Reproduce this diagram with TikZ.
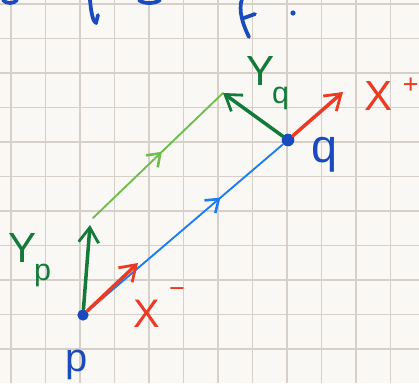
\documentclass[tikz,border=0pt]{standalone}
\usepackage{fontspec}
\setmainfont{Liberation Sans}
\usepackage{xcolor}
\usetikzlibrary{arrows.meta,decorations.markings}
\definecolor{paper}{HTML}{FAF8F4}
\definecolor{gridline}{HTML}{D6D0C8}
\definecolor{penblue}{HTML}{1A4BBE}
\definecolor{lineblue}{HTML}{1C7CF2}
\definecolor{pengreen}{HTML}{147A3A}
\definecolor{litegreen}{HTML}{6DBE4B}
\definecolor{penred}{HTML}{EB3B25}
\newcommand{\subfont}{\fontsize{26}{26}\selectfont}
\newcommand{\hsub}[3]{#2\kern#1\raisebox{-15.5pt}{\subfont #3}}
\newcommand{\hsup}[3]{X\kern#1\raisebox{#2}{\fontsize{23}{23}\selectfont #3}}
\tikzset{
  gridrule/.style={draw=gridline,line width=1pt},
  ptdot/.style={circle,fill=penblue,inner sep=0pt,minimum size=0.34cm},
  vecarr/.style={-{Straight Barb[length=4.5mm,width=6mm,line width=2.4pt]},
                 line width=3pt,line cap=round},
  thinline/.style={line width=1.6pt,line cap=round},
  midarr/.style={postaction={decorate},
                 decoration={markings,mark=at position #1 with
                   {\arrow{Straight Barb[length=3.5mm,width=5mm,line width=2.2pt]}}}},
  lbl/.style={inner sep=0pt,anchor=base west,font=\fontsize{36}{36}\selectfont},
  scrawl/.style={draw=penblue,line width=3.2pt,line cap=round,line join=round}
}

\begin{document}
\begin{tikzpicture}[x=0.03cm,y=-0.03cm]
    \path[use as bounding box,fill=paper] (0,0) rectangle (419,383);
    \clip (0,0) rectangle (419,383);
    \foreach \gx in {11,45.5,...,400} \draw[gridrule] (\gx,0) -- (\gx,383);
    \foreach \gy in {4,38.5,...,383} \draw[gridrule] (0,\gy) -- (419,\gy);

    \draw[scrawl] (3,0) .. controls (6,4) and (14,4) .. (17,0);
    \draw[scrawl] (90,0) .. controls (91,12) and (93,22) .. (96,23) -- (98,15);
    \draw[scrawl] (139,0) .. controls (143,4) and (155,4) .. (160,0);
    \draw[scrawl] (242,-1) .. controls (238,10) and (243,25) .. (249,37);
    \draw[scrawl] (244,18) -- (255,14);
    \fill[penblue] (293,13) circle (2.6);

    \node[ptdot] (p) at (83,315) {};
    \node[ptdot,minimum size=0.38cm] (q) at (288,140) {};
    \coordinate (xm) at (138,263);
    \coordinate (yp) at (90,225);
    \coordinate (gs) at (93,218);
    \coordinate (yq) at (223,93);
    \coordinate (xp) at (343,92);

    \draw[thinline,lineblue,midarr=0.68] (p) -- (q);
    \draw[thinline,litegreen,midarr=0.53] (gs) -- (yq);
    \draw[vecarr,penred] (p) -- (xm);
    \draw[vecarr,pengreen] (p) -- (yp);
    \draw[vecarr,pengreen] (q) -- (yq);
    \draw[vecarr,penred] (q) -- (xp);

    \node[lbl,text=pengreen] (yplab) at (8,262) {\hsub{-2pt}{Y}{p}};
    \node[lbl,text=pengreen] (yqlab) at (246,85) {\hsub{-2pt}{Y}{q}};
    \node[lbl,text=penred,font=\fontsize{34}{34}\selectfont] (xmlab) at (133,327) {\hsup{8pt}{25pt}{−}};
    \node[lbl,text=penred] (xplab) at (364,110) {\hsup{9pt}{14pt}{+}};
    \node[lbl,text=penblue,font=\fontsize{34}{34}\selectfont] (plab) at (65,371) {p};
    \node[lbl,text=penblue,font=\fontsize{40}{40}\selectfont] (qlab) at (311,162) {q};
  \end{tikzpicture}
\end{document}
